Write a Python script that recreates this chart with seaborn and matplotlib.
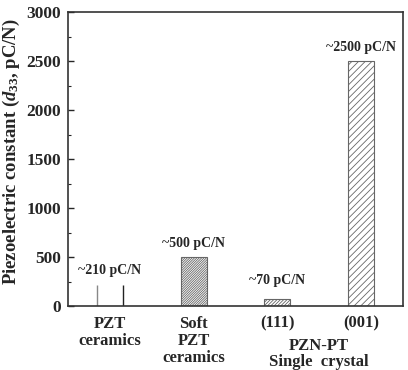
import matplotlib
matplotlib.use("Agg")
import matplotlib.pyplot as plt
import seaborn as sns
import pandas as pd

categories = ["PZT\nceramics", "Soft\nPZT\nceramics", "(111)", "(001)"]
values = [210, 500, 70, 2500]
annotations = ["~210 pC/N", "~500 pC/N", "~70 pC/N", "~2500 pC/N"]
group_label = "PZN-PT\nSingle  crystal"
hatches = ["", "//////////////", "//////////", "/////"]

sns.set_theme(style="white")
plt.rcParams["font.family"] = ["Liberation Serif", "DejaVu Serif"]
plt.rcParams["font.weight"] = "bold"
plt.rcParams["mathtext.fontset"] = "custom"
plt.rcParams["mathtext.rm"] = "Liberation Serif:bold"
plt.rcParams["mathtext.it"] = "Liberation Serif:italic:bold"
plt.rcParams["mathtext.bf"] = "Liberation Serif:bold"
plt.rcParams["hatch.linewidth"] = 0.6
plt.rcParams["hatch.color"] = "#333333"

df = pd.DataFrame({"cat": categories, "val": values})

fig = plt.figure(figsize=(4.08, 3.70), dpi=100)
ax = fig.add_axes([68/408, 1-306/370, 335/408, 294/370])
sns.barplot(data=df, x="cat", y="val", color="white", width=0.31,
            edgecolor="#666666", linewidth=0.8, ax=ax, saturation=1)

offsets = [6, 5, 9, 5]
for i, p in enumerate(ax.patches):
    p.set_hatch(hatches[i])
    p.set_facecolor("white")
    if i == 0:
        p.set_linewidth(0)
        x0 = p.get_x(); w = p.get_width(); h = p.get_height()
        ax.vlines([x0, x0 + w], 0, h, colors=["#888888", "#222222"], linewidth=1.0)
    ax.annotate(annotations[i], (p.get_x() + p.get_width()/2, p.get_height()),
                xytext=(0, offsets[i]), textcoords="offset points",
                ha="center", va="bottom", fontsize=10, fontweight="bold")

ax.set_xlim(-0.5, 3.5)
ax.set_ylim(0, 3000)
ax.set_yticks(range(0, 3001, 500))
ax.set_yticks(range(250, 3000, 500), minor=True)
ax.tick_params(axis="y", which="major", direction="in", length=4, width=1, left=True,
               labelsize=12.5, pad=5)
ax.tick_params(axis="y", which="minor", direction="in", length=2.5, width=0.8, left=True)
ax.tick_params(axis="x", length=0, labelsize=12, pad=7)
for lab in ax.get_xticklabels() + ax.get_yticklabels():
    lab.set_fontweight("bold")
for t in ax.get_xticklabels():
    t.set_verticalalignment("top")
    t.set_linespacing(1.1)
ax.set_xlabel("")
ax.set_ylabel(r"Piezoelectric constant ($\mathit{d}_{33}$, pC/N)", fontsize=13.5,
              fontweight="bold")
ax.yaxis.set_label_coords(-0.138, 0.524)
for s in ax.spines.values():
    s.set_color("#333333")
    s.set_linewidth(1.2)
    s.set_visible(True)

ax.text(2.5, -0.108, group_label, transform=ax.get_xaxis_transform(), ha="center",
        va="top", fontsize=12, fontweight="bold", linespacing=1.0)

fig.savefig("out.png", dpi=100)
